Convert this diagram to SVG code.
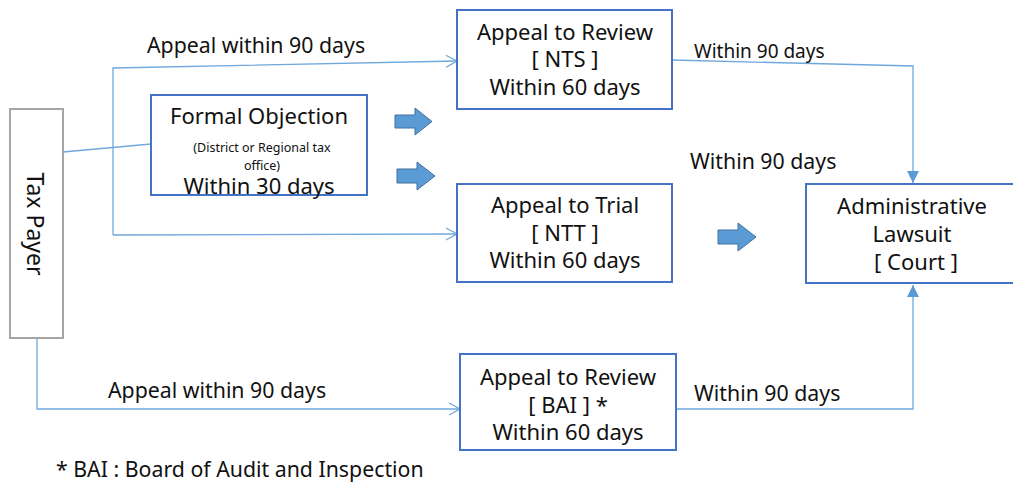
<svg xmlns="http://www.w3.org/2000/svg" width="1013" height="483" viewBox="0 0 1013 483">
<defs>
<style>
.box{fill:#fff;stroke:#4472C4;stroke-width:2}
.gbox{fill:#fff;stroke:#A5A5A5;stroke-width:2}
.ln{fill:none;stroke:#6FA8DC;stroke-width:1.3}
.blk{fill:#5B9BD5;stroke:#41719C;stroke-width:1}
text{font-family:"Noto Sans","Open Sans",sans-serif;fill:#111;text-anchor:middle}
.t{font-size:22px}
.m{font-size:21.3px}
.s{font-size:19px}
.xs{font-size:12.5px}
.l{text-anchor:start}
</style>
<marker id="open" markerWidth="14" markerHeight="14" refX="12" refY="7" orient="auto" markerUnits="userSpaceOnUse">
<path d="M1,1 L12,7 L1,13" fill="none" stroke="#6FA8DC" stroke-width="1.3"/>
</marker>
<marker id="tri" markerWidth="14" markerHeight="14" refX="12" refY="7" orient="auto" markerUnits="userSpaceOnUse">
<path d="M0,1 L12,7 L0,13 Z" fill="#5B9BD5"/>
</marker>
</defs>
<rect width="1013" height="483" fill="#fff"/>

<g id="connectors">
<path class="ln" d="M63,152 L151,144"/>
<path class="ln" d="M113,235 L113,68 L457,61" marker-end="url(#open)"/>
<path class="ln" d="M113,235 L457,234" marker-end="url(#open)"/>
<path class="ln" d="M37,338 L37,409 L460,409" marker-end="url(#open)"/>
<path class="ln" d="M672,60 L913,66 L913,183" marker-end="url(#tri)"/>
<path class="ln" d="M676,409 L913,409 L913,285" marker-end="url(#tri)"/>
</g>

<g id="block-arrows">
<path class="blk" d="M395,115 L415,115 L415,108 L432,121.5 L415,135 L415,128 L395,128 Z"/>
<path class="blk" d="M397,169 L417,169 L417,162 L435,176 L417,190 L417,183 L397,183 Z"/>
<path class="blk" d="M718,230 L738,230 L738,223 L756,237 L738,251 L738,244 L718,244 Z"/>
</g>

<g id="tax-payer">
<rect class="gbox" x="10" y="109" width="53" height="229"/>
<text style="font-size:23px" transform="translate(27,224) rotate(90)">Tax Payer</text>
</g>

<g id="formal-objection">
<rect class="box" x="151" y="95" width="216" height="100"/>
<text class="t" x="259" y="124">Formal Objection</text>
<text class="xs" x="262" y="152">(District or Regional tax</text>
<text class="xs" x="262" y="170">office)</text>
<text class="t" x="259" y="194">Within 30 days</text>
</g>

<g id="review-nts">
<rect class="box" x="457" y="10" width="215" height="99"/>
<text class="t" x="565" y="40">Appeal to Review</text>
<text class="t" x="565" y="67">[ NTS ]</text>
<text class="t" x="565" y="95">Within 60 days</text>
</g>

<g id="trial-ntt">
<rect class="box" x="457" y="184" width="215" height="98"/>
<text class="t" x="565" y="213">Appeal to Trial</text>
<text class="t" x="565" y="241">[ NTT ]</text>
<text class="t" x="565" y="268">Within 60 days</text>
</g>

<g id="admin-lawsuit">
<rect class="box" x="806" y="184" width="215" height="99"/>
<text class="t" x="912" y="214">Administrative</text>
<text class="t" x="912" y="242">Lawsuit</text>
<text class="t" x="916" y="270">[ Court ]</text>
</g>

<g id="review-bai">
<rect class="box" x="460" y="354" width="216" height="96"/>
<text class="t" x="568" y="385">Appeal to Review</text>
<text class="t" x="568" y="413">[ BAI ] *</text>
<text class="t" x="568" y="440">Within 60 days</text>
</g>

<g id="labels">
<text class="m l" x="147" y="53">Appeal within 90 days</text>
<text class="s l" x="694" y="58">Within 90 days</text>
<text class="m l" x="690" y="169">Within 90 days</text>
<text class="m l" x="108" y="398">Appeal within 90 days</text>
<text class="m l" x="694" y="401">Within 90 days</text>
<text class="m l" x="56" y="477">* BAI : Board of Audit and Inspection</text>
</g>
</svg>
